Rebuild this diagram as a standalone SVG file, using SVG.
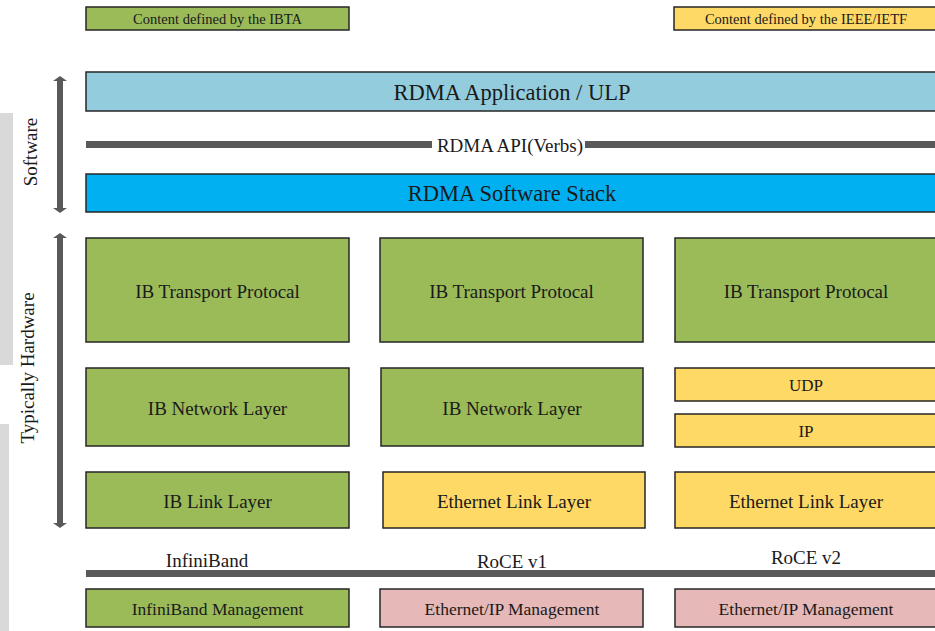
<svg xmlns="http://www.w3.org/2000/svg" width="935" height="631" viewBox="0 0 935 631">
<defs>
<style>
.box{stroke:#262626;stroke-width:1.5}
.g{fill:#9BBB59}
.y{fill:#FFD966}
.p{fill:#E6B8B7}
.lb{fill:#93CDDD}
.b{fill:#00B0F0}
.t{fill:#1a1a1a;text-anchor:middle;dominant-baseline:central}
.bar{fill:#595959}
</style>
</defs>
<rect width="935" height="631" fill="#ffffff"/>
<rect x="0" y="113" width="13" height="252" fill="#D9D9D9"/>
<rect x="0" y="424" width="9" height="207" fill="#D9D9D9"/>

<g font-family="'Liberation Serif', 'Times New Roman', serif">
<g id="legend-ibta"><rect class="box g" x="86" y="7" width="263" height="23"/><text class="t" x="217.5" y="19" font-size="14.5">Content defined by the IBTA</text></g>
<g id="legend-ieee"><rect class="box y" x="674" y="7" width="264" height="23"/><text class="t" x="806" y="19" font-size="14.5">Content defined by the IEEE/IETF</text></g>

<g id="connectors">
<rect class="bar" x="57" y="81" width="6" height="127"/>
<polygon class="bar" points="60,76 67,81 53,81"/>
<polygon class="bar" points="60,213 67,208 53,208"/>
<rect class="bar" x="57" y="238" width="6" height="285"/>
<polygon class="bar" points="60,233 67,238 53,238"/>
<polygon class="bar" points="60,528 67,523 53,523"/>
<rect class="bar" x="86" y="141" width="346" height="7"/>
<rect class="bar" x="585" y="141" width="350" height="7"/>
<rect class="bar" x="86" y="570" width="849" height="7"/>
</g>
<text class="t" font-size="19" transform="translate(30,152) rotate(-90)">Software</text>
<text class="t" font-size="19" transform="translate(27,368) rotate(-90)">Typically Hardware</text>

<g id="app"><rect class="box lb" x="86" y="72" width="852" height="39"/><text class="t" x="512" y="92" font-size="22.5">RDMA Application / ULP</text></g>
<g id="api"><text class="t" x="510" y="145" font-size="19">RDMA API(Verbs)</text></g>
<g id="stack"><rect class="box b" x="86" y="174" width="852" height="38"/><text class="t" x="512" y="193" font-size="22.5">RDMA Software Stack</text></g>

<g id="ib-transport-1"><rect class="box g" x="86" y="238" width="263" height="104"/><text class="t" x="217.5" y="291" font-size="19">IB Transport Protocal</text></g>
<g id="ib-network-1"><rect class="box g" x="86" y="368" width="263" height="78"/><text class="t" x="217.5" y="408" font-size="19">IB Network Layer</text></g>
<g id="ib-link-1"><rect class="box g" x="86" y="472" width="263" height="56"/><text class="t" x="217.5" y="501" font-size="19">IB Link Layer</text></g>

<g id="ib-transport-2"><rect class="box g" x="380" y="238" width="263" height="104"/><text class="t" x="511.5" y="291" font-size="19">IB Transport Protocal</text></g>
<g id="ib-network-2"><rect class="box g" x="381" y="368" width="262" height="78"/><text class="t" x="512" y="408" font-size="19">IB Network Layer</text></g>
<g id="eth-link-2"><rect class="box y" x="383" y="472" width="262" height="56"/><text class="t" x="514" y="501" font-size="19">Ethernet Link Layer</text></g>

<g id="ib-transport-3"><rect class="box g" x="675" y="238" width="263" height="104"/><text class="t" x="806" y="291" font-size="19">IB Transport Protocal</text></g>
<g id="udp"><rect class="box y" x="675" y="368" width="263" height="33"/><text class="t" x="806" y="385" font-size="17">UDP</text></g>
<g id="ip"><rect class="box y" x="675" y="414" width="263" height="33"/><text class="t" x="806" y="431" font-size="17">IP</text></g>
<g id="eth-link-3"><rect class="box y" x="675" y="472" width="263" height="56"/><text class="t" x="806" y="501" font-size="19">Ethernet Link Layer</text></g>

<text class="t" x="207" y="560" font-size="19">InfiniBand</text>
<text class="t" x="512" y="561" font-size="19">RoCE v1</text>
<text class="t" x="806" y="557" font-size="19">RoCE v2</text>

<g id="ib-mgmt"><rect class="box g" x="86" y="589" width="263" height="38"/><text class="t" x="217.5" y="609" font-size="17.5">InfiniBand Management</text></g>
<g id="eth-mgmt-2"><rect class="box p" x="380" y="589" width="263" height="38"/><text class="t" x="512" y="609" font-size="17.5">Ethernet/IP Management</text></g>
<g id="eth-mgmt-3"><rect class="box p" x="675" y="589" width="263" height="38"/><text class="t" x="806" y="609" font-size="17.5">Ethernet/IP Management</text></g>
</g>
</svg>
